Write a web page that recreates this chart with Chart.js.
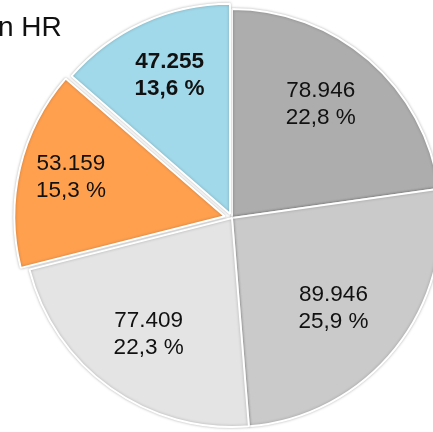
<!DOCTYPE html>
<html>
<head>
<meta charset="utf-8">
<script src="https://cdn.jsdelivr.net/npm/chart.js@4.4.1/dist/chart.umd.min.js"></script>
<style>
    html, body { margin: 0; padding: 0; overflow: hidden; background: #ffffff; }
    #pieChart { position: absolute; left: 0; top: 0; }
</style>
</head>
<body>
<canvas id="pieChart" width="447" height="433"></canvas>
<script>
// data
const categories = ["Segment 1", "Segment 2", "Segment 3", "Segment 4", "Segment 5"];
const values = [78946, 89946, 77409, 53159, 47255];
const titleText = "n HR";

// styles
const sliceColors = ["#adadad", "#cacaca", "#e4e4e4", "#ffa04f", "#a1d9ea"];
const sliceOffsets = [0, 0, 0, 30, 18];
const labelDistance = [0.69, 0.65, 0.686, 0.753, 0.72];
const labelAngleShift = [-3, 3, 0, 1, 1]; // degrees
const labelBold = [false, false, false, false, true];

function formatNumber(v) {
    return String(v).replace(/\B(?=(\d{3})+(?!\d))/g, ".");
}

function formatPercent(v, total) {
    return (v / total * 100).toFixed(1).replace(".", ",") + " %";
}

document.addEventListener("DOMContentLoaded", function () {
    const total = values.reduce((a, b) => a + b, 0);

    // soft shadow around the slices
    const sliceShadow = {
        id: "sliceShadow",
        beforeDatasetsDraw(chart) {
            const ctx = chart.ctx;
            ctx.save();
            ctx.shadowColor = "rgba(0, 0, 0, 0.25)";
            ctx.shadowBlur = 3;
        },
        afterDatasetsDraw(chart) {
            chart.ctx.restore();
        },
    };

    // value + percentage inside each slice, and the cut title
    const sliceLabels = {
        id: "sliceLabels",
        afterDraw(chart) {
            const ctx = chart.ctx;
            const meta = chart.getDatasetMeta(0);
            ctx.save();
            ctx.fillStyle = "#111111";
            ctx.textAlign = "center";
            ctx.textBaseline = "middle";
            meta.data.forEach(function (arc, i) {
                const p = arc.getProps(["x", "y", "startAngle", "endAngle", "outerRadius", "circumference"], true);
                const mid = (p.startAngle + p.endAngle) / 2;
                // same shift that Chart.js applies to an offset arc
                const shift = sliceOffsets[i] / 4 * (2 - Math.sin(Math.min(Math.PI, p.circumference)));
                const ox = p.x + Math.cos(mid) * shift;
                const oy = p.y + Math.sin(mid) * shift;
                const a = mid + labelAngleShift[i] * Math.PI / 180;
                const r = p.outerRadius * labelDistance[i];
                const cx = ox + Math.cos(a) * r;
                const cy = oy + Math.sin(a) * r;
                ctx.font = (labelBold[i] ? "bold " : "") + "22.5px 'Liberation Sans', Arial, sans-serif";
                ctx.fillText(formatNumber(values[i]), cx, cy - 13.5);
                ctx.fillText(formatPercent(values[i], total), cx, cy + 13.5);
            });
            ctx.textAlign = "left";
            ctx.textBaseline = "alphabetic";
            ctx.font = "28px 'Liberation Sans', Arial, sans-serif";
            ctx.fillText(titleText, -2, 36);
            ctx.restore();
        },
    };

    const pieCtx = document.getElementById("pieChart").getContext("2d");
    const pieChart = new Chart(pieCtx, {
        type: "pie",
        data: {
            labels: categories,
            datasets: [
                {
                    data: values,
                    backgroundColor: sliceColors,
                    borderColor: "#ffffff",
                    borderWidth: 2,
                    hoverBorderWidth: 2,
                    offset: sliceOffsets,
                    hoverOffset: 0,
                    radius: 209,
                },
            ],
        },
        options: {
            responsive: false,
            animation: false,
            devicePixelRatio: 1,
            layout: {
                padding: { left: 17, top: 3, right: 0, bottom: 0 },
            },
            plugins: {
                legend: { display: false },
                tooltip: { enabled: false },
            },
            events: [],
        },
        plugins: [sliceShadow, sliceLabels],
    });
});
</script>
</body>
</html>
